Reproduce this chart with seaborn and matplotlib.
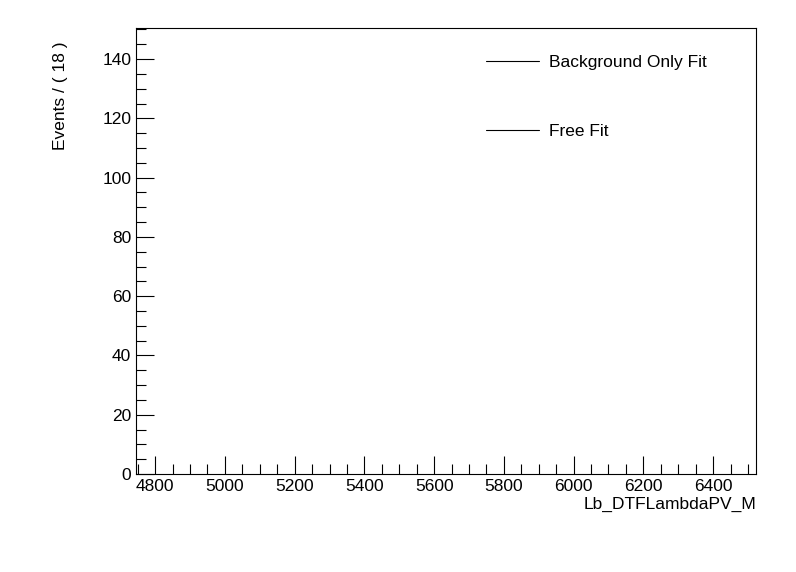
import matplotlib
matplotlib.use("Agg")
import matplotlib.pyplot as plt
import seaborn as sns
from matplotlib.lines import Line2D
from matplotlib.ticker import MultipleLocator

series_names = ["Background Only Fit", "Free Fit"]
x_label = "Lb_DTFLambdaPV_M"
y_label = "Events / ( 18 )"
x_range = [4745, 6523]
y_range = [0, 150.5]

sns.set_style("ticks")
plt.rcParams['font.family'] = ['Liberation Sans', 'DejaVu Sans']
plt.rcParams['text.color'] = 'black'
plt.rcParams['axes.labelcolor'] = 'black'
plt.rcParams['xtick.color'] = 'black'
plt.rcParams['ytick.color'] = 'black'

fig = plt.figure(figsize=(7.96, 5.72), dpi=100)
ax = fig.add_axes([136/796, 98/572, 620/796, 446/572])
ax.set_xlim(*x_range)
ax.set_ylim(*y_range)
ax.xaxis.set_major_locator(MultipleLocator(200))
ax.xaxis.set_minor_locator(MultipleLocator(50))
ax.yaxis.set_major_locator(MultipleLocator(20))
ax.yaxis.set_minor_locator(MultipleLocator(5))
ax.tick_params(which='both', direction='in', labelsize=12.5, labelcolor='black', color='black', width=0.8)
ax.tick_params(axis='x', which='major', length=13)
ax.tick_params(axis='x', which='minor', length=7)
ax.tick_params(axis='y', which='major', length=13)
ax.tick_params(axis='y', which='minor', length=7)
for s in ax.spines.values():
    s.set_linewidth(0.8)
    s.set_color('black')
ax.set_xlabel(x_label, fontsize=12.5, loc='right', color='black', labelpad=2)
ax.set_ylabel(y_label, fontsize=12.5, loc='top', color='black', labelpad=14)
ax.yaxis.set_label_coords(-0.11, 0.97, transform=ax.transAxes)
ax.yaxis.label.set_horizontalalignment('right')

handles = [Line2D([], [], color='black', lw=0.8) for _ in series_names]
leg = ax.legend(handles, series_names, loc='upper left', bbox_to_anchor=(0.54, 0.975),
          frameon=False, fontsize=12.5, handlelength=3.0, labelspacing=3.1,
          handletextpad=0.6)
for t in leg.get_texts():
    t.set_color('black')
fig.savefig("out.png", dpi=100)
